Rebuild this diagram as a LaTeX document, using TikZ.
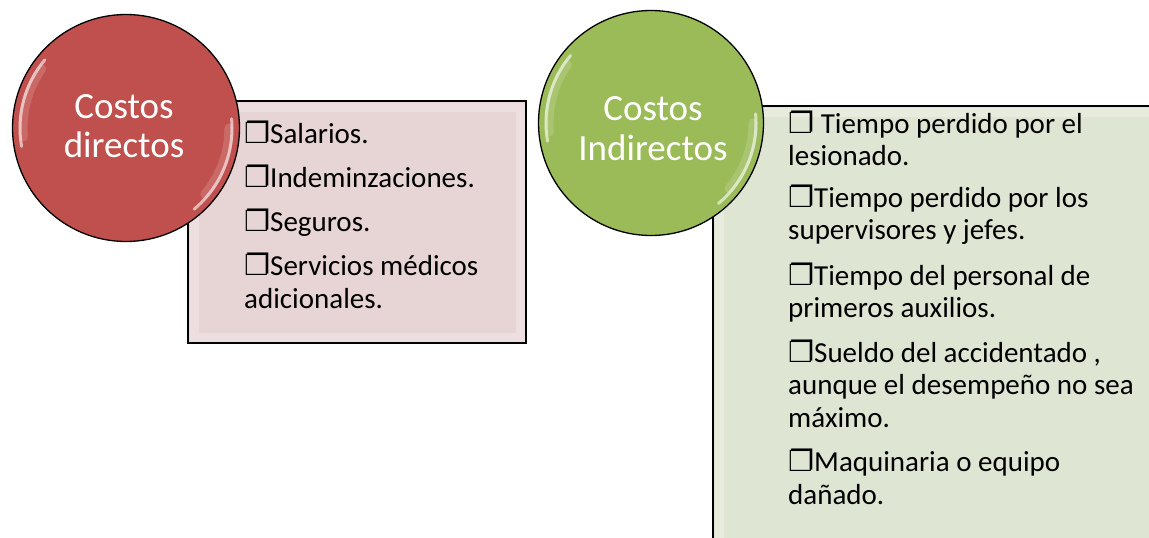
\documentclass[tikz,border=0pt]{standalone}
\usepackage{fontspec}
\setmainfont{Carlito}
\newfontfamily\symfont{DejaVu Sans Bold}
\newcommand{\bx}{{\symfont\fontsize{29}{29}\selectfont ❐}}
\definecolor{redc}{HTML}{C0504D}
\definecolor{greenc}{HTML}{9BBB59}
\definecolor{pinkbox}{HTML}{E7D4D4}
\definecolor{greenbox}{HTML}{DEE6D3}
\tikzset{
  circ/.style={circle, draw=black, line width=1.3pt, inner sep=0pt},
  listbox/.style={draw=black, line width=1.3pt, anchor=north west, inner sep=0pt},
  ctext/.style={anchor=base, inner sep=0pt, text=white, font=\fontsize{37}{40}\selectfont},
  ltext/.style={anchor=base west, inner sep=0pt, text=black, font=\fontsize{29}{32}\selectfont},
  gloss/.style={white, line width=3pt, opacity=0.6, line cap=round},
  glosssoft/.style={white, line width=9pt, opacity=0.15, line cap=round},
  bevel/.style={white, line width=9pt, opacity=0.28}
}
\begin{document}
\begin{tikzpicture}[x=1pt,y=-1pt]
\useasboundingbox (0,0) rectangle (1149,538);
\fill[white] (0,0) rectangle (1149,538);

% pink list box
\node[listbox, fill=pinkbox, minimum width=337pt, minimum height=241pt] (pb) at (188,101) {};
\draw[bevel] ([shift={(6,6)}]pb.north west) rectangle ([shift={(-6,-6)}]pb.south east);
\draw[black, line width=1.3pt] (pb.north west) rectangle (pb.south east);

% green list box
\node[listbox, fill=greenbox, minimum width=450pt, minimum height=470pt] (gb) at (713,106) {};
\draw[bevel] ([shift={(6,6)}]gb.north west) rectangle ([shift={(-6,-6)}]gb.south east);
\draw[black, line width=1.3pt] (gb.north west) rectangle (gb.south east);

% red circle (y axis points down: visual angle phi is written as -phi)
\node[circ, fill=redc, minimum size=227pt] (cd) at (126,128) {};
\draw[glosssoft] (cd.center) ++(-145:103) arc[start angle=-145, end angle=-185, radius=103];
\draw[gloss] (cd.center) ++(-140:106) arc[start angle=-140, end angle=-190, radius=106];
\draw[gloss] (cd.center) ++(-5:106) arc[start angle=-5, end angle=50, radius=106];
\draw[glosssoft] (cd.center) ++(0:103) arc[start angle=0, end angle=40, radius=103];

% green circle
\node[circ, fill=greenc, minimum size=225pt] (ci) at (651,123) {};
\draw[glosssoft] (ci.center) ++(-145:102) arc[start angle=-145, end angle=-185, radius=102];
\draw[gloss] (ci.center) ++(-140:105) arc[start angle=-140, end angle=-190, radius=105];
\draw[gloss] (ci.center) ++(-5:105) arc[start angle=-5, end angle=50, radius=105];
\draw[glosssoft] (ci.center) ++(0:102) arc[start angle=0, end angle=40, radius=102];

% circle texts
\node[ctext] (cd1) at (124,118) {Costos};
\node[ctext] (cd2) at (124,157) {directos};
\node[ctext] (ci1) at (653,120) {Costos};
\node[ctext] (ci2) at (653,160) {Indirectos};

% pink list
\node[ltext] (p1) at (244,143) {\bx Salarios.};
\node[ltext] (p2) at (244,187) {\bx Indeminzaciones.};
\node[ltext] (p3) at (244,231) {\bx Seguros.};
\node[ltext] (p4) at (244,275) {\bx Servicios médicos};
\node[ltext] (p5) at (244,308) {adicionales.};

% green list
\node[ltext] (g1) at (788,133) {\bx\ Tiempo perdido por el};
\node[ltext] (g2) at (788,165.5) {lesionado.};
\node[ltext] (g3) at (788,207) {\bx Tiempo perdido por los};
\node[ltext] (g4) at (788,239.5) {supervisores y jefes.};
\node[ltext] (g5) at (788,285) {\bx Tiempo del personal de};
\node[ltext] (g6) at (788,317.5) {primeros auxilios.};
\node[ltext] (g7) at (788,362) {\bx Sueldo del accidentado ,};
\node[ltext] (g8) at (788,394.5) {aunque el desempeño no sea};
\node[ltext] (g9) at (788,427) {máximo.};
\node[ltext] (g10) at (788,471.5) {\bx Maquinaria o equipo};
\node[ltext] (g11) at (788,504) {dañado.};
\end{tikzpicture}
\end{document}
